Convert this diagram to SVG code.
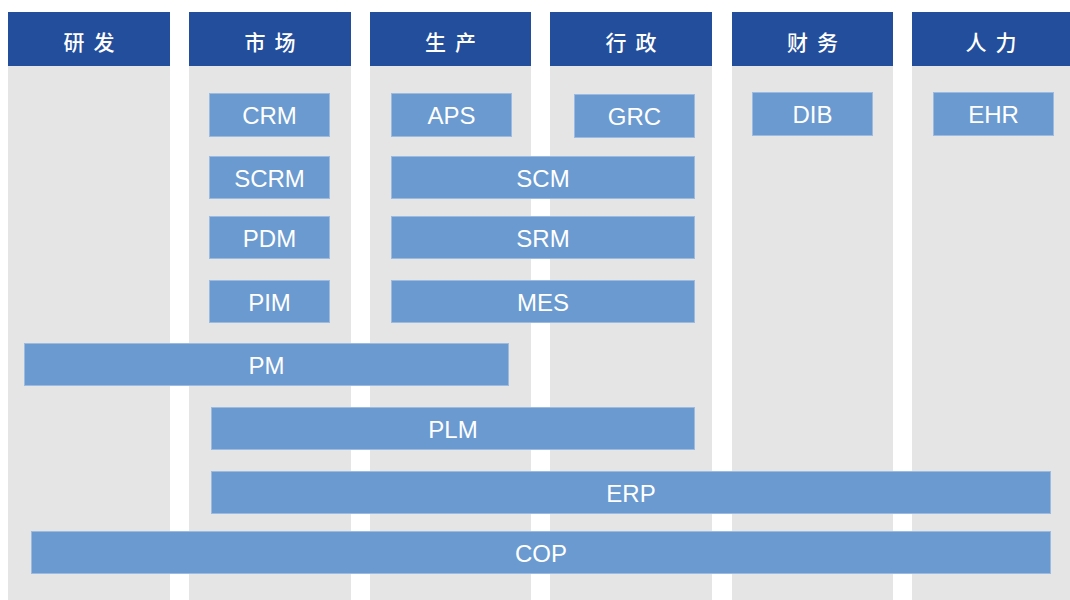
<svg xmlns="http://www.w3.org/2000/svg" width="1070" height="600" viewBox="0 0 1070 600">
<style>
.col{fill:#E5E5E5}
.hd{fill:#234E9B}
.ht{fill:#FFFFFF;font-family:"Noto Sans CJK SC","Noto Sans",sans-serif;font-size:21px;font-weight:500;letter-spacing:9px;text-anchor:middle}
.bx{fill:#6A9ACF;stroke:#9DBBE0;stroke-width:1}
.bt{fill:#FFFFFF;font-family:"Liberation Sans",Arial,sans-serif;font-size:24px;text-anchor:middle}
</style>
<rect width="1070" height="600" fill="#FFFFFF"/>
<g id="columns">
<g id="col-yanfa"><rect class="col" x="8" y="66" width="162" height="534"/><rect class="hd" x="8" y="12" width="162" height="54"/><text class="ht" x="93.5" y="50">研发</text></g>
<g id="col-shichang"><rect class="col" x="189" y="66" width="162" height="534"/><rect class="hd" x="189" y="12" width="162" height="54"/><text class="ht" x="274.5" y="50">市场</text></g>
<g id="col-shengchan"><rect class="col" x="370" y="66" width="161" height="534"/><rect class="hd" x="370" y="12" width="161" height="54"/><text class="ht" x="455" y="50">生产</text></g>
<g id="col-xingzheng"><rect class="col" x="550" y="66" width="162" height="534"/><rect class="hd" x="550" y="12" width="162" height="54"/><text class="ht" x="635.5" y="50">行政</text></g>
<g id="col-caiwu"><rect class="col" x="732" y="66" width="161" height="534"/><rect class="hd" x="732" y="12" width="161" height="54"/><text class="ht" x="817" y="50">财务</text></g>
<g id="col-renli"><rect class="col" x="912" y="66" width="158" height="534"/><rect class="hd" x="912" y="12" width="158" height="54"/><text class="ht" x="995.5" y="50">人力</text></g>
</g>
<g id="connectors"></g>
<g id="CRM"><rect class="bx" x="209.5" y="93.5" width="120" height="43"/><text class="bt" x="269.5" y="124">CRM</text></g>
<g id="APS"><rect class="bx" x="391.5" y="93.5" width="120" height="43"/><text class="bt" x="451.5" y="124">APS</text></g>
<g id="GRC"><rect class="bx" x="574.5" y="94.5" width="120" height="43"/><text class="bt" x="634.5" y="125">GRC</text></g>
<g id="DIB"><rect class="bx" x="752.5" y="92.5" width="120" height="43"/><text class="bt" x="812.5" y="123">DIB</text></g>
<g id="EHR"><rect class="bx" x="933.5" y="92.5" width="120" height="43"/><text class="bt" x="993.5" y="123">EHR</text></g>
<g id="SCRM"><rect class="bx" x="209.5" y="156.5" width="120" height="42"/><text class="bt" x="269.5" y="186.5">SCRM</text></g>
<g id="SCM"><rect class="bx" x="391.5" y="156.5" width="303" height="42"/><text class="bt" x="543" y="186.5">SCM</text></g>
<g id="PDM"><rect class="bx" x="209.5" y="216.5" width="120" height="42"/><text class="bt" x="269.5" y="246.5">PDM</text></g>
<g id="SRM"><rect class="bx" x="391.5" y="216.5" width="303" height="42"/><text class="bt" x="543" y="246.5">SRM</text></g>
<g id="PIM"><rect class="bx" x="209.5" y="280.5" width="120" height="42"/><text class="bt" x="269.5" y="310.5">PIM</text></g>
<g id="MES"><rect class="bx" x="391.5" y="280.5" width="303" height="42"/><text class="bt" x="543" y="310.5">MES</text></g>
<g id="PM"><rect class="bx" x="24.5" y="343.5" width="484" height="42"/><text class="bt" x="266.5" y="373.5">PM</text></g>
<g id="PLM"><rect class="bx" x="211.5" y="407.5" width="483" height="42"/><text class="bt" x="453" y="437.5">PLM</text></g>
<g id="ERP"><rect class="bx" x="211.5" y="471.5" width="839" height="42"/><text class="bt" x="631" y="501.5">ERP</text></g>
<g id="COP"><rect class="bx" x="31.5" y="531.5" width="1019" height="42"/><text class="bt" x="541" y="561.5">COP</text></g>
</svg>
